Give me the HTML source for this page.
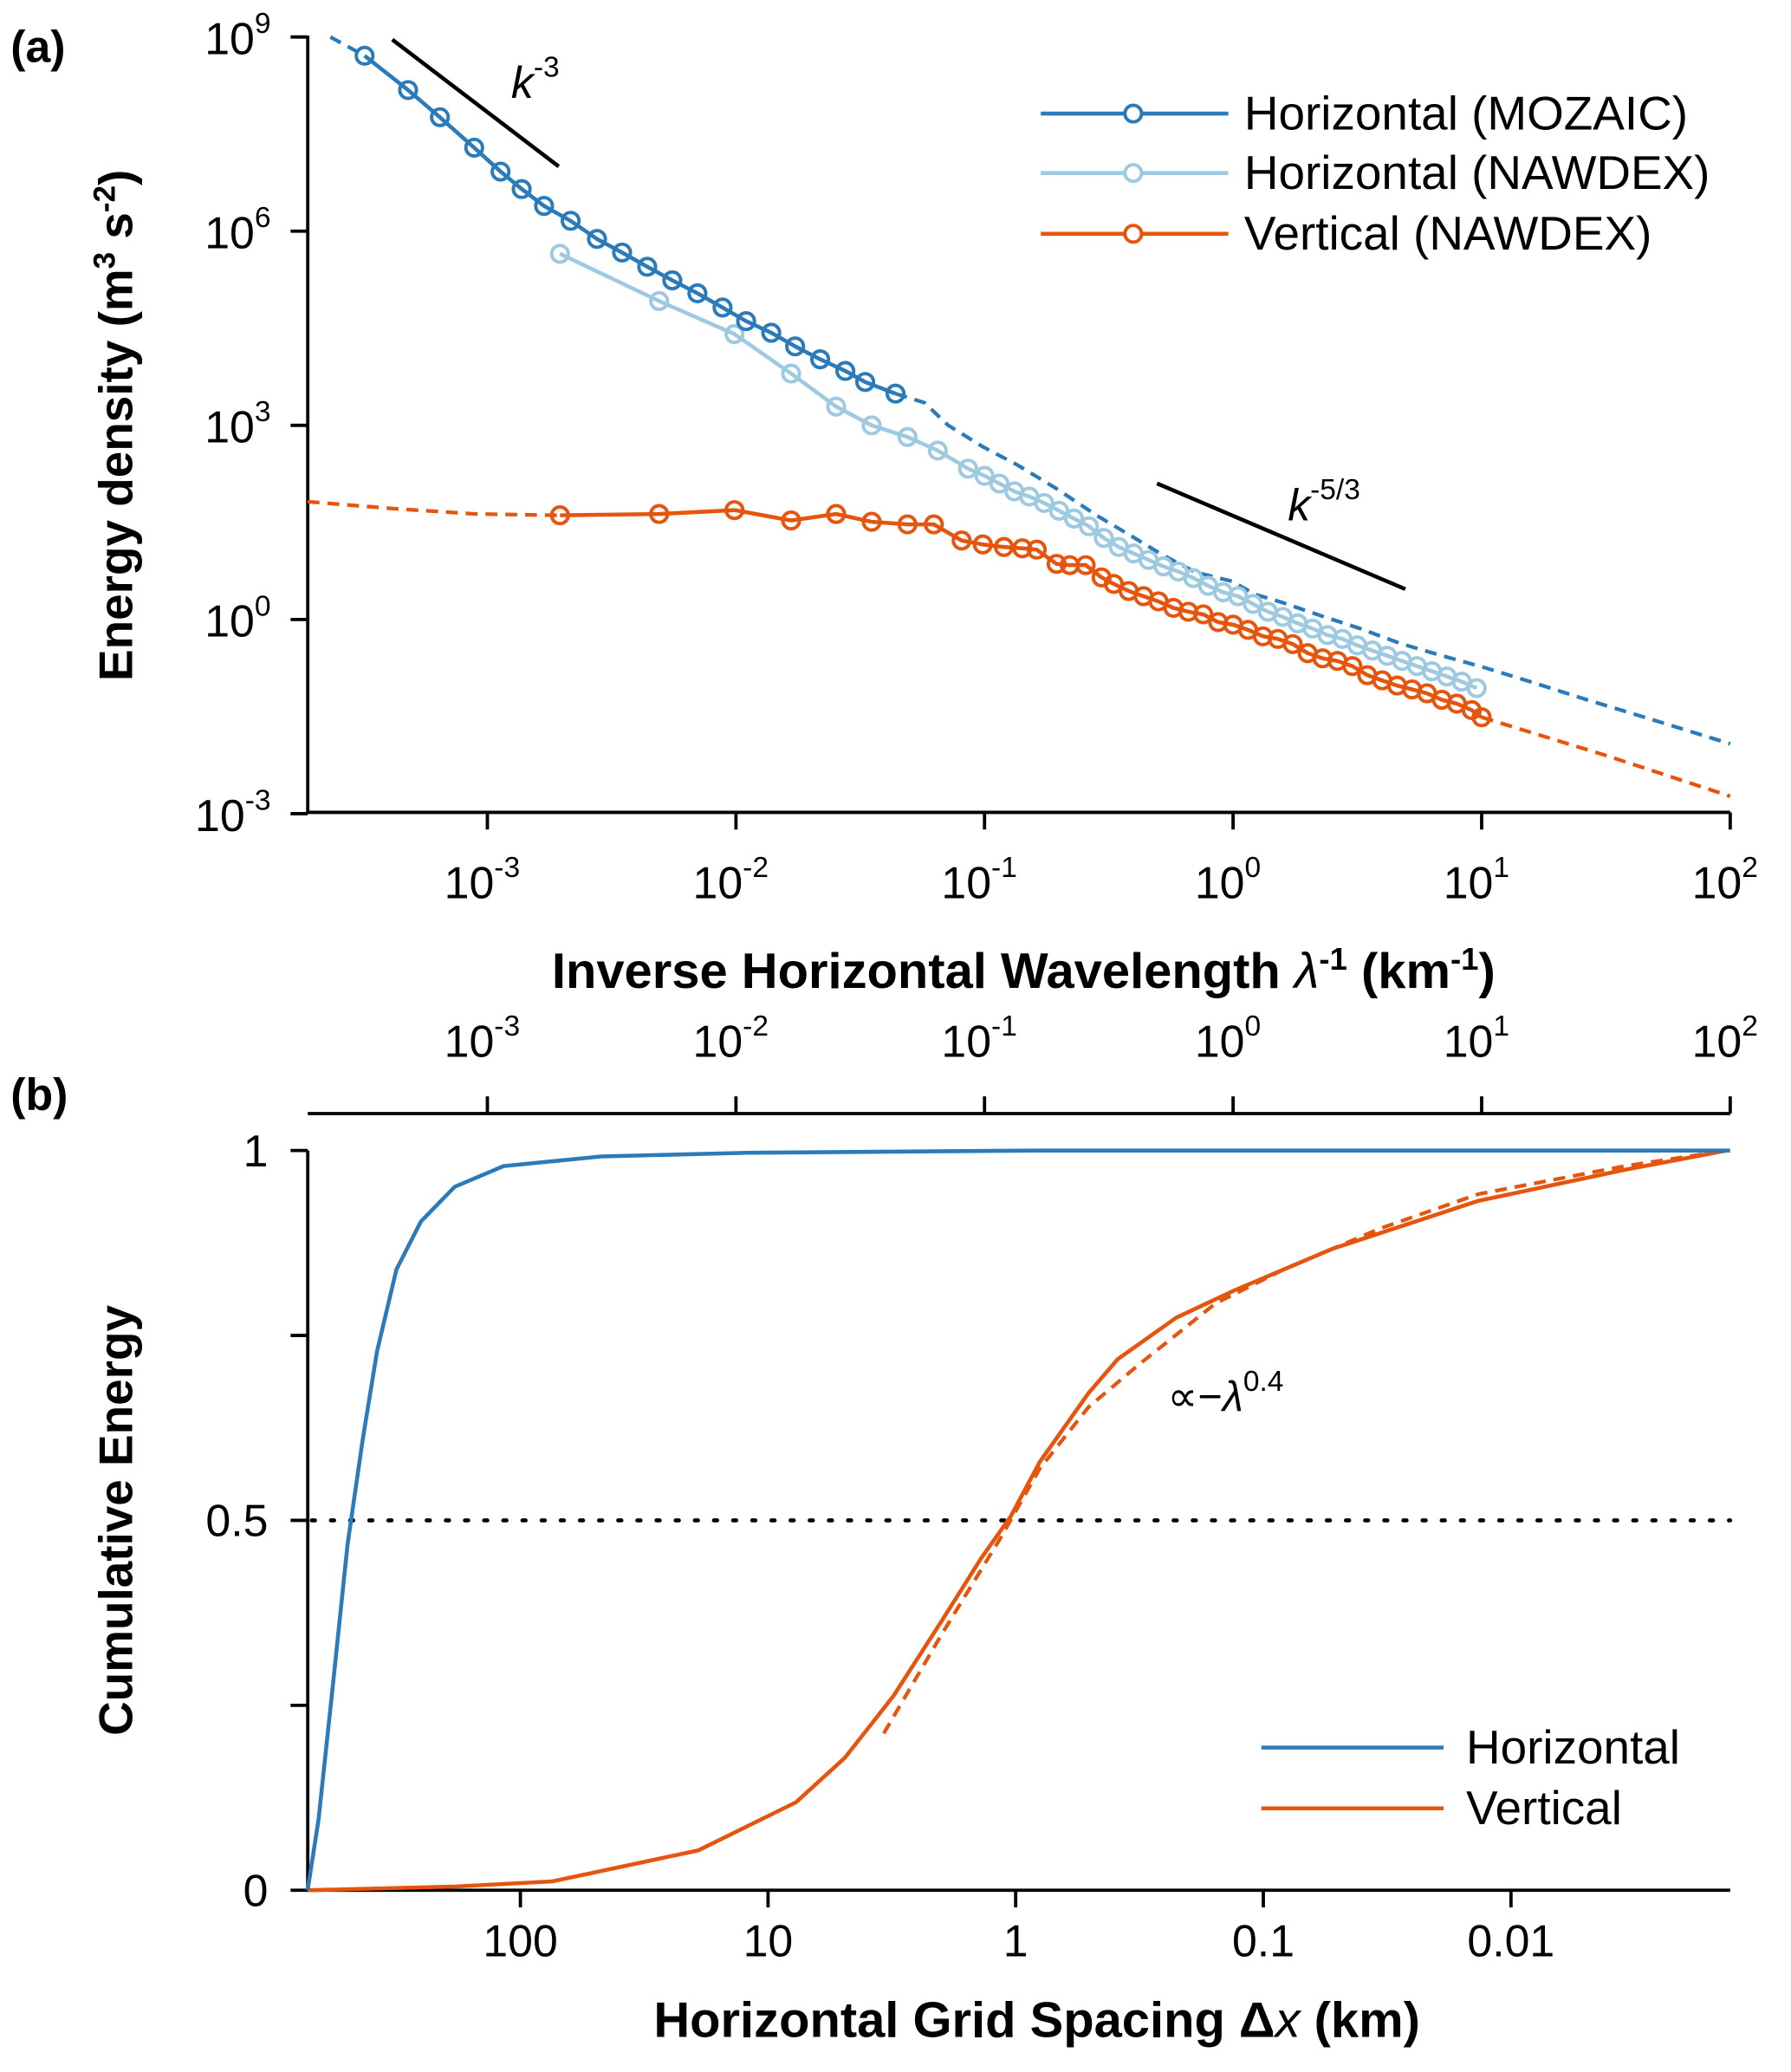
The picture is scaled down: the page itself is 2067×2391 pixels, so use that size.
<!DOCTYPE html>
<html><head><meta charset="utf-8">
<style>
html,body{margin:0;padding:0;background:#fff;}
svg{display:block;font-family:"Liberation Sans","DejaVu Sans",sans-serif;}
</style></head>
<body>
<svg id="fig" width="2067" height="2391" viewBox="0 0 1356 1568.6" xmlns="http://www.w3.org/2000/svg">
<g id="pa"></g>
<g id="pb"></g>
</svg>
<script>
// ---------- Panel (a) data: log10 of inverse wavelength and log10 of energy density ----------
const mozaicLogK = [-3.494,-3.319,-3.191,-3.053,-2.947,-2.862,-2.772,-2.665,-2.559,-2.458,-2.357,-2.256,-2.155,-2.054,-1.959,-1.858,-1.762,-1.661,-1.560,-1.480,-1.358];
const mozaicLogE = [8.71,8.18,7.76,7.29,6.92,6.65,6.39,6.16,5.88,5.67,5.45,5.24,5.04,4.82,4.61,4.43,4.22,4.02,3.84,3.67,3.49];
const mozaicDashLeadLogK = [-3.632,-3.494];
const mozaicDashLeadLogE = [9.0,8.71];
const mozaicDashLogK = [-1.358,-1.241,-1.146,-1.007,-0.869,-0.710,-0.550,-0.418,-0.285,-0.152,-0.003,0.087,0.193,0.353,0.512,0.672,0.831,1.001,1.203,1.416,1.681,2.0];
const mozaicDashLogE = [3.49,3.35,3.00,2.67,2.39,2.02,1.61,1.31,1.00,0.73,0.59,0.39,0.27,0.06,-0.14,-0.37,-0.55,-0.73,-0.97,-1.23,-1.54,-1.92];
const nawHLogK = [-2.708,-2.309,-2.006,-1.778,-1.597,-1.454,-1.310,-1.188,-1.066,-1.0,-0.94,-0.88,-0.82,-0.76,-0.70,-0.64,-0.58,-0.52,-0.46,-0.40,-0.34,-0.28,-0.22,-0.16,-0.10,-0.04,0.02,0.08,0.14,0.20,0.26,0.32,0.38,0.44,0.50,0.56,0.62,0.68,0.74,0.80,0.86,0.92,0.98];
const nawHLogE = [5.65,4.92,4.41,3.80,3.29,3.00,2.82,2.61,2.33,2.22,2.10,1.98,1.90,1.80,1.68,1.56,1.44,1.26,1.12,1.02,0.92,0.82,0.74,0.64,0.52,0.42,0.36,0.24,0.12,0.04,-0.06,-0.14,-0.24,-0.30,-0.40,-0.48,-0.56,-0.64,-0.72,-0.80,-0.88,-0.96,-1.06];
const vertLogK = [-2.708,-2.309,-2.006,-1.778,-1.597,-1.454,-1.310,-1.204,-1.092,-1.007,-0.922,-0.848,-0.790,-0.710,-0.657,-0.593,-0.529,-0.48,-0.42,-0.36,-0.30,-0.24,-0.18,-0.12,-0.06,0.0,0.06,0.12,0.18,0.24,0.30,0.36,0.42,0.48,0.54,0.60,0.66,0.72,0.78,0.84,0.90,0.96,1.0];
const vertLogE = [1.61,1.63,1.69,1.53,1.63,1.51,1.47,1.47,1.22,1.16,1.12,1.10,1.08,0.86,0.84,0.84,0.65,0.55,0.44,0.36,0.28,0.18,0.12,0.08,-0.04,-0.08,-0.16,-0.26,-0.30,-0.38,-0.52,-0.60,-0.64,-0.72,-0.86,-0.94,-1.02,-1.08,-1.14,-1.24,-1.30,-1.40,-1.51];
const vertDashLeadLogK = [-3.723,-3.367,-3.048,-2.708];
const vertDashLeadLogE = [1.82,1.71,1.63,1.61];
const vertDashLogK = [1.0,1.5,2.0];
const vertDashLogE = [-1.51,-2.10,-2.73];
const xTicksA = [-3,-2,-1,0,1,2];
const yTicksA = [9,6,3,0,-3];

// ---------- Panel (b) data: log10 grid spacing and cumulative energy ----------
const horizLogDx = [2.859,2.815,2.756,2.698,2.638,2.579,2.501,2.402,2.265,2.068,1.674,1.084,-0.096,-2.885];
const horizCum = [0,0.096,0.282,0.467,0.607,0.728,0.839,0.904,0.951,0.979,0.992,0.997,1,1];
const vertLogDx = [2.859,2.265,1.871,1.281,0.887,0.690,0.493,0.297,0.139,0.021,-0.097,-0.294,-0.412,-0.648,-0.884,-1.278,-1.868,-2.459,-2.872];
const vertCum = [0,0.005,0.012,0.054,0.119,0.179,0.263,0.365,0.449,0.505,0.579,0.672,0.718,0.774,0.811,0.867,0.932,0.974,1];
const fitLogDx = [0.533,0.297,0.060,-0.097,-0.294,-0.491,-0.806,-1.081,-1.475,-1.868,-2.459,-2.872];
const fitCum = [0.212,0.347,0.477,0.570,0.653,0.709,0.793,0.839,0.895,0.941,0.979,1];
const bottomTickVals = [2,1,0,-1,-2];
const bottomTickLabels = ["100","10","1","0.1","0.01"];
const yTicksB = [0,0.25,0.5,0.75,1];
const yTickLabelsB = ["0","","0.5","","1"];

const NS = "http://www.w3.org/2000/svg";
const BLUE = "#2b7bba", LBLUE = "#9ecae1", ORANGE = "#e6550d";
function mk(parent, tag, attrs, text){
  const e = document.createElementNS(NS, tag);
  for (const k in attrs) e.setAttribute(k, attrs[k]);
  if (text !== undefined) e.textContent = text;
  parent.appendChild(e);
  return e;
}
const ax = v => 369 + (v + 3) * 188.2;
const ay = v => 469 - v * 49;
const bx = v => 769 - v * 187.5;
const by = v => 1431 - v * 560;

const pa = document.getElementById('pa');
const pb = document.getElementById('pb');
const TF = 34, TS = 22;

function poly(parent, xs, ys, fx, fy, color, w, dash, name){
  const pts = xs.map((x,i)=>fx(x).toFixed(1)+','+fy(ys[i]).toFixed(1)).join(' ');
  const p = mk(parent,'polyline',{points:pts,fill:'none',stroke:color,'stroke-width':w,'stroke-linejoin':'round'});
  if (dash) p.setAttribute('stroke-dasharray', dash);
  
  
  return p;
}
function markers(parent, xs, ys, fx, fy, color, name){
  const g = mk(parent,'g',{});
  
  
  xs.forEach((x,i)=>{
    const c = mk(g,'circle',{cx:fx(x),cy:fy(ys[i]),r:6.3,fill:'none',stroke:color,'stroke-width':2.6});
    
    
  });
}
function powLabel(parent, x, y, exp, anchor, name){
  const tx = mk(parent,'text',{x:x,y:y,'font-size':TF,'text-anchor':anchor});
   
  mk(tx,'tspan',{},'10');
  mk(tx,'tspan',{dy:-16,'font-size':TS},String(exp));
  return tx;
}

// ---- Panel a ----
let t = mk(pa,'text',{x:8,y:47,'font-size':34,'font-weight':'bold'},'(a)');
 
let l = mk(pa,'path',{d:'M233,27 V615 H1310',fill:'none',stroke:'#000','stroke-width':2.5});
 
yTicksA.forEach(v=>{
  mk(pa,'line',{x1:220,x2:233,y1:ay(v),y2:ay(v),stroke:'#000','stroke-width':2.5});
  powLabel(pa,205,ay(v)+13,v,'end','y-tick-label');
});
xTicksA.forEach(v=>{
  mk(pa,'line',{x1:ax(v),x2:ax(v),y1:615,y2:628,stroke:'#000','stroke-width':2.5});
  powLabel(pa,ax(v)-4,680,v,'middle','x-tick-label');
});
t = mk(pa,'text',{x:0,y:0,'font-size':36,'font-weight':'bold','text-anchor':'middle',transform:'translate(100,322) rotate(-90)'});
 
mk(t,'tspan',{},'Energy density (m');mk(t,'tspan',{dy:-13,'font-size':23},'3');mk(t,'tspan',{dy:13},' s');mk(t,'tspan',{dy:-13,'font-size':23},'-2');mk(t,'tspan',{dy:13},')');
t = mk(pa,'text',{x:775,y:748,'font-size':38,'font-weight':'bold','text-anchor':'middle'});
 
mk(t,'tspan',{},'Inverse Horizontal Wavelength ');mk(t,'tspan',{'font-style':'italic','font-weight':'normal'},'λ');mk(t,'tspan',{dy:-14,'font-size':24},'-1');mk(t,'tspan',{dy:14},' (km');mk(t,'tspan',{dy:-14,'font-size':24},'-1');mk(t,'tspan',{dy:14},')');

l = mk(pa,'line',{x1:297,y1:30,x2:423,y2:126,stroke:'#000','stroke-width':3});
 
t = mk(pa,'text',{x:387,y:74,'font-size':34});
 
mk(t,'tspan',{'font-style':'italic'},'k');mk(t,'tspan',{dy:-16,'font-size':22},'-3');
l = mk(pa,'line',{x1:876,y1:366,x2:1064,y2:446,stroke:'#000','stroke-width':3});
 
t = mk(pa,'text',{x:975,y:394,'font-size':34});
 
mk(t,'tspan',{'font-style':'italic'},'k');mk(t,'tspan',{dy:-16,'font-size':22},'-5/3');

poly(pa,mozaicDashLeadLogK,mozaicDashLeadLogE,ax,ay,BLUE,2.8,'9,6','mozaic-dashed-lead');
poly(pa,mozaicDashLogK,mozaicDashLogE,ax,ay,BLUE,2.8,'9,6','mozaic-dashed-extension');
poly(pa,vertDashLeadLogK,vertDashLeadLogE,ax,ay,ORANGE,2.8,'9,6','vertical-dashed-lead');
poly(pa,vertDashLogK,vertDashLogE,ax,ay,ORANGE,2.8,'9,6','vertical-dashed-extension');
poly(pa,nawHLogK,nawHLogE,ax,ay,LBLUE,3,null,'nawdex-horizontal-line');
markers(pa,nawHLogK,nawHLogE,ax,ay,LBLUE,'nawdex-horizontal-markers');
poly(pa,vertLogK,vertLogE,ax,ay,ORANGE,3,null,'vertical-line');
markers(pa,vertLogK,vertLogE,ax,ay,ORANGE,'vertical-markers');
poly(pa,mozaicLogK,mozaicLogE,ax,ay,BLUE,3,null,'mozaic-line');
markers(pa,mozaicLogK,mozaicLogE,ax,ay,BLUE,'mozaic-markers');

const legA = [["Horizontal (MOZAIC)",BLUE,86],["Horizontal (NAWDEX)",LBLUE,131],["Vertical (NAWDEX)",ORANGE,177]];
const lgA = mk(pa,'g',{});  
legA.forEach(e=>{
  const g = mk(lgA,'g',{});
   
  mk(g,'line',{x1:788,x2:930,y1:e[2],y2:e[2],stroke:e[1],'stroke-width':3});
  mk(g,'circle',{cx:858,cy:e[2],r:6.3,fill:'#fff',stroke:e[1],'stroke-width':2.6});
  mk(g,'text',{x:942,y:e[2]+12,'font-size':36},e[0]);
});

// ---- Panel b ----
t = mk(pb,'text',{x:8,y:840,'font-size':34,'font-weight':'bold'},'(b)');
 
l = mk(pb,'line',{x1:233,x2:1310,y1:843,y2:843,stroke:'#000','stroke-width':2.5});
 
xTicksA.forEach(v=>{
  mk(pb,'line',{x1:ax(v),x2:ax(v),y1:830,y2:843,stroke:'#000','stroke-width':2.5});
  powLabel(pb,ax(v)-4,800,v,'middle','top-tick-label');
});
l = mk(pb,'path',{d:'M233,871 V1431 H1310',fill:'none',stroke:'#000','stroke-width':2.5});
 
yTicksB.forEach((v,i)=>{
  mk(pb,'line',{x1:220,x2:233,y1:by(v),y2:by(v),stroke:'#000','stroke-width':2.5});
  if (yTickLabelsB[i]) {
    const tx = mk(pb,'text',{x:203,y:by(v)+12,'font-size':TF,'text-anchor':'end'},yTickLabelsB[i]);
     
  }
});
bottomTickVals.forEach((v,i)=>{
  mk(pb,'line',{x1:bx(v),x2:bx(v),y1:1431,y2:1444,stroke:'#000','stroke-width':2.5});
  const tx = mk(pb,'text',{x:bx(v),y:1481,'font-size':TF,'text-anchor':'middle'},bottomTickLabels[i]);
   
});
t = mk(pb,'text',{x:0,y:0,'font-size':36,'font-weight':'bold','text-anchor':'middle',transform:'translate(100,1151) rotate(-90)'},'Cumulative Energy');
 
t = mk(pb,'text',{x:785,y:1542,'font-size':38,'font-weight':'bold','text-anchor':'middle'});
 
mk(t,'tspan',{},'Horizontal Grid Spacing Δ');mk(t,'tspan',{'font-style':'italic','font-weight':'normal'},'x');mk(t,'tspan',{},' (km)');
l = mk(pb,'line',{x1:236,x2:1310,y1:by(0.5),y2:by(0.5),stroke:'#000','stroke-width':3,'stroke-dasharray':'2.5,12','stroke-linecap':'round'});
 
poly(pb,fitLogDx,fitCum,bx,by,ORANGE,2.8,'9,6','power-law-fit');
poly(pb,vertLogDx,vertCum,bx,by,ORANGE,3,null,'vertical-cumulative');
poly(pb,horizLogDx,horizCum,bx,by,BLUE,3,null,'horizontal-cumulative');
t = mk(pb,'text',{x:884,y:1068,'font-size':32});
 
mk(t,'tspan',{},'∝−');mk(t,'tspan',{'font-style':'italic'},'λ');mk(t,'tspan',{dy:-15,'font-size':22},'0.4');
const legB = [["Horizontal",BLUE,1323],["Vertical",ORANGE,1369]];
const lgB = mk(pb,'g',{});  
legB.forEach(e=>{
  const g = mk(lgB,'g',{});
   
  mk(g,'line',{x1:955,x2:1093,y1:e[2],y2:e[2],stroke:e[1],'stroke-width':3});
  mk(g,'text',{x:1110,y:e[2]+12,'font-size':36},e[0]);
});
</script>
</body></html>
